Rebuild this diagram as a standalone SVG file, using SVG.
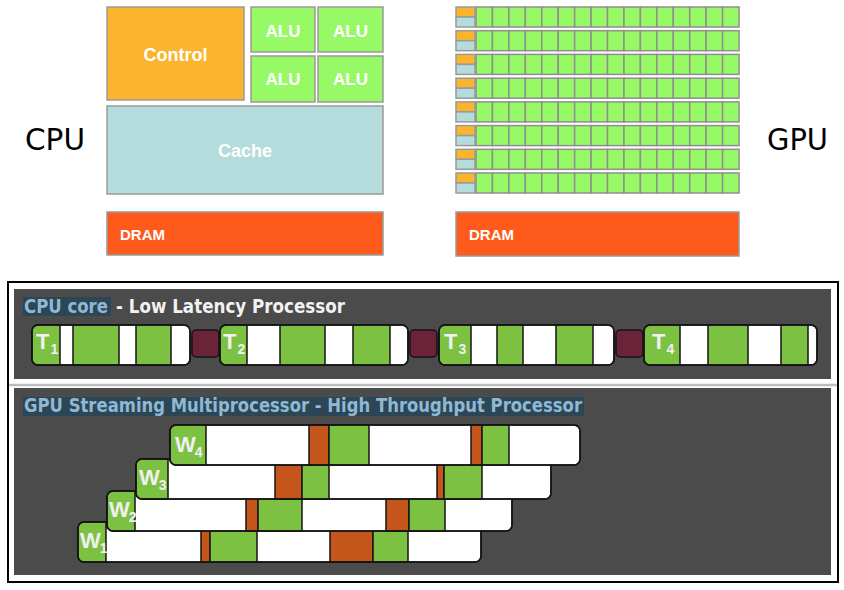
<svg xmlns="http://www.w3.org/2000/svg" xmlns:xlink="http://www.w3.org/1999/xlink" width="844" height="590" viewBox="0 0 844 590">
<style>
.box{stroke:#9a9a9a;stroke-width:1.5}
.ctl{fill:#fbb42e}
.alu{fill:#97f966}
.cache{fill:#b4dcdc}
.dram{fill:#fe5a1c}
.wt{font-family:"Liberation Sans",Arial,sans-serif;font-weight:bold;fill:#ffffff}
.big{font-family:"DejaVu Sans",Verdana,sans-serif;font-size:31px;fill:#000}
.panel{fill:#4b4b4b}
.ttl{font-family:"DejaVu Sans",Verdana,sans-serif;font-weight:bold;font-size:19px}
.bar{fill:#ffffff;stroke:#141414;stroke-width:1.5}
.out{fill:none;stroke:#141414;stroke-width:1.5}
.g{fill:#7dc143;stroke:#141414;stroke-width:1.5}
.o{fill:#c4561b;stroke:#141414;stroke-width:1.5}
.m{fill:#6a2339;stroke:#141414;stroke-width:1.5}
.lt{font-family:"Liberation Sans",Arial,sans-serif;font-weight:bold;fill:#f0f0f0;font-size:22px}
.ls{font-size:14px}
.cell{fill:#97f966;stroke:#8f8f8f;stroke-width:1.5}
</style>
<defs>
<g id="gpurow">
<rect class="box ctl" x="456" y="0" width="19" height="10"/>
<rect class="box cache" x="456" y="10" width="19" height="10"/>
<rect class="cell" x="476" y="0" width="16.44" height="20"/>
<rect class="cell" x="492.44" y="0" width="16.44" height="20"/>
<rect class="cell" x="508.88" y="0" width="16.44" height="20"/>
<rect class="cell" x="525.32" y="0" width="16.44" height="20"/>
<rect class="cell" x="541.76" y="0" width="16.44" height="20"/>
<rect class="cell" x="558.2" y="0" width="16.44" height="20"/>
<rect class="cell" x="574.64" y="0" width="16.44" height="20"/>
<rect class="cell" x="591.08" y="0" width="16.44" height="20"/>
<rect class="cell" x="607.52" y="0" width="16.44" height="20"/>
<rect class="cell" x="623.96" y="0" width="16.44" height="20"/>
<rect class="cell" x="640.4" y="0" width="16.44" height="20"/>
<rect class="cell" x="656.84" y="0" width="16.44" height="20"/>
<rect class="cell" x="673.28" y="0" width="16.44" height="20"/>
<rect class="cell" x="689.72" y="0" width="16.44" height="20"/>
<rect class="cell" x="706.16" y="0" width="16.44" height="20"/>
<rect class="cell" x="722.6" y="0" width="16.44" height="20"/>
</g>
</defs>
<rect x="0" y="0" width="844" height="590" fill="#ffffff"/>

<!-- CPU block -->
<g id="cpu">
<text class="big" x="25" y="150" textLength="60" lengthAdjust="spacingAndGlyphs">CPU</text>
<g id="control"><rect class="box ctl" x="107" y="7" width="137" height="93"/><text class="wt" x="175.5" y="61" font-size="18" text-anchor="middle">Control</text></g>
<g id="alu1"><rect class="box alu" x="251" y="7" width="64" height="45"/><text class="wt" x="283" y="37" font-size="17" text-anchor="middle">ALU</text></g>
<g id="alu2"><rect class="box alu" x="318" y="7" width="65" height="45"/><text class="wt" x="350.5" y="37" font-size="17" text-anchor="middle">ALU</text></g>
<g id="alu3"><rect class="box alu" x="251" y="56" width="64" height="46"/><text class="wt" x="283" y="85" font-size="17" text-anchor="middle">ALU</text></g>
<g id="alu4"><rect class="box alu" x="318" y="56" width="65" height="46"/><text class="wt" x="350.5" y="85" font-size="17" text-anchor="middle">ALU</text></g>
<g id="cache"><rect class="box cache" x="107" y="106" width="276" height="88"/><text class="wt" x="245" y="157" font-size="18" text-anchor="middle">Cache</text></g>
<g id="cpudram"><rect class="box dram" x="107" y="212" width="276" height="43"/><text class="wt" x="120" y="240" font-size="15">DRAM</text></g>
</g>

<!-- GPU block -->
<g id="gpu">
<text class="big" x="767" y="150" textLength="61" lengthAdjust="spacingAndGlyphs">GPU</text>
<g id="gpucores">
<use xlink:href="#gpurow" y="7"/>
<use xlink:href="#gpurow" y="30.7"/>
<use xlink:href="#gpurow" y="54.4"/>
<use xlink:href="#gpurow" y="78.2"/>
<use xlink:href="#gpurow" y="101.9"/>
<use xlink:href="#gpurow" y="125.6"/>
<use xlink:href="#gpurow" y="149.3"/>
<use xlink:href="#gpurow" y="173"/>
</g>
<g id="gpudram"><rect class="box dram" x="456" y="212" width="283" height="44"/><text class="wt" x="469" y="240" font-size="15">DRAM</text></g>
</g>

<!-- lower frame -->
<rect x="8" y="282" width="830" height="300" fill="#ffffff" stroke="#000" stroke-width="2"/>
<line x1="9" y1="385" x2="837" y2="385" stroke="#bdbdbd" stroke-width="2.5"/>
<rect class="panel" x="14" y="289" width="817" height="90"/>
<rect class="panel" x="14" y="388" width="817" height="187"/>

<!-- CPU core panel -->
<g id="cpucore">
<rect x="23" y="297" width="88" height="19" fill="#2c4656"/>
<text class="ttl" x="24" y="313" fill="#8fb8d3" textLength="84" lengthAdjust="spacingAndGlyphs">CPU core</text>
<text class="ttl" x="116" y="313" fill="#f2f2f2" textLength="229" lengthAdjust="spacingAndGlyphs">- Low Latency Processor</text>

<g id="t1">
<rect class="bar" x="32" y="325" width="158" height="40" rx="6"/>
<path class="g" d="M38,325 H60 V365 H38 A6,6 0 0 1 32,359 V331 A6,6 0 0 1 38,325 Z"/>
<rect class="g" x="73" y="325" width="46" height="40"/>
<rect class="g" x="136" y="325" width="35" height="40"/>
<rect class="out" x="32" y="325" width="158" height="40" rx="6"/>
<text class="lt" x="36" y="349">T<tspan class="ls" dx="1" dy="5">1</tspan></text>
</g>
<rect id="s1" class="m" x="192" y="330" width="27" height="27" rx="4"/>
<g id="t2">
<rect class="bar" x="220" y="325" width="188" height="40" rx="6"/>
<path class="g" d="M226,325 H247 V365 H226 A6,6 0 0 1 220,359 V331 A6,6 0 0 1 226,325 Z"/>
<rect class="g" x="280" y="325" width="45" height="40"/>
<rect class="g" x="353" y="325" width="37" height="40"/>
<rect class="out" x="220" y="325" width="188" height="40" rx="6"/>
<text class="lt" x="223" y="349">T<tspan class="ls" dx="1" dy="5">2</tspan></text>
</g>
<rect id="s2" class="m" x="410" y="330" width="27" height="27" rx="4"/>
<g id="t3">
<rect class="bar" x="439" y="325" width="175" height="40" rx="6"/>
<path class="g" d="M445,325 H471 V365 H445 A6,6 0 0 1 439,359 V331 A6,6 0 0 1 445,325 Z"/>
<rect class="g" x="497" y="325" width="26" height="40"/>
<rect class="g" x="556" y="325" width="37" height="40"/>
<rect class="out" x="439" y="325" width="175" height="40" rx="6"/>
<text class="lt" x="444" y="349">T<tspan class="ls" dx="1" dy="5">3</tspan></text>
</g>
<rect id="s3" class="m" x="616" y="330" width="27" height="27" rx="4"/>
<g id="t4">
<rect class="bar" x="644" y="325" width="173" height="40" rx="6"/>
<path class="g" d="M650,325 H680 V365 H650 A6,6 0 0 1 644,359 V331 A6,6 0 0 1 650,325 Z"/>
<rect class="g" x="708" y="325" width="40" height="40"/>
<rect class="g" x="781" y="325" width="27" height="40"/>
<rect class="out" x="644" y="325" width="173" height="40" rx="6"/>
<text class="lt" x="652" y="349">T<tspan class="ls" dx="1" dy="5">4</tspan></text>
</g>
</g>

<!-- GPU SM panel -->
<g id="gpusm">
<rect x="23" y="397" width="561" height="19" fill="#2c4656"/>
<text class="ttl" x="24" y="412" fill="#8fb8d3" textLength="558" lengthAdjust="spacingAndGlyphs">GPU Streaming Multiprocessor - High Throughput Processor</text>

<g id="w1">
<rect class="bar" x="78" y="522" width="403" height="40" rx="6"/>
<path class="g" d="M84,522 H106 V562 H84 A6,6 0 0 1 78,556 V528 A6,6 0 0 1 84,522 Z"/>
<rect class="o" x="201" y="522" width="9" height="40"/>
<rect class="g" x="210" y="522" width="47" height="40"/>
<rect class="o" x="330" y="522" width="43" height="40"/>
<rect class="g" x="373" y="522" width="35" height="40"/>
<rect class="out" x="78" y="522" width="403" height="40" rx="6"/>
<text class="lt" x="80" y="548">W<tspan class="ls" dx="-1" dy="5">1</tspan></text>
</g>
<g id="w2">
<rect class="bar" x="107" y="491" width="405" height="40" rx="6"/>
<path class="g" d="M113,491 H135 V531 H113 A6,6 0 0 1 107,525 V497 A6,6 0 0 1 113,491 Z"/>
<rect class="o" x="246" y="491" width="12" height="40"/>
<rect class="g" x="258" y="491" width="44" height="40"/>
<rect class="o" x="386" y="491" width="23" height="40"/>
<rect class="g" x="409" y="491" width="36" height="40"/>
<rect class="out" x="107" y="491" width="405" height="40" rx="6"/>
<text class="lt" x="109" y="517">W<tspan class="ls" dx="-1" dy="5">2</tspan></text>
</g>
<g id="w3">
<rect class="bar" x="136" y="459" width="415" height="40" rx="6"/>
<path class="g" d="M142,459 H168 V499 H142 A6,6 0 0 1 136,493 V465 A6,6 0 0 1 142,459 Z"/>
<rect class="o" x="275" y="459" width="27" height="40"/>
<rect class="g" x="302" y="459" width="27" height="40"/>
<rect class="o" x="437" y="459" width="7" height="40"/>
<rect class="g" x="444" y="459" width="38" height="40"/>
<rect class="out" x="136" y="459" width="415" height="40" rx="6"/>
<text class="lt" x="139" y="485">W<tspan class="ls" dx="-1" dy="5">3</tspan></text>
</g>
<g id="w4">
<rect class="bar" x="170" y="425" width="410" height="40" rx="6"/>
<path class="g" d="M176,425 H206 V465 H176 A6,6 0 0 1 170,459 V431 A6,6 0 0 1 176,425 Z"/>
<rect class="o" x="309" y="425" width="20" height="40"/>
<rect class="g" x="329" y="425" width="40" height="40"/>
<rect class="o" x="471" y="425" width="11" height="40"/>
<rect class="g" x="482" y="425" width="27" height="40"/>
<rect class="out" x="170" y="425" width="410" height="40" rx="6"/>
<text class="lt" x="175" y="452">W<tspan class="ls" dx="-1" dy="5">4</tspan></text>
</g>
</g>
</svg>
